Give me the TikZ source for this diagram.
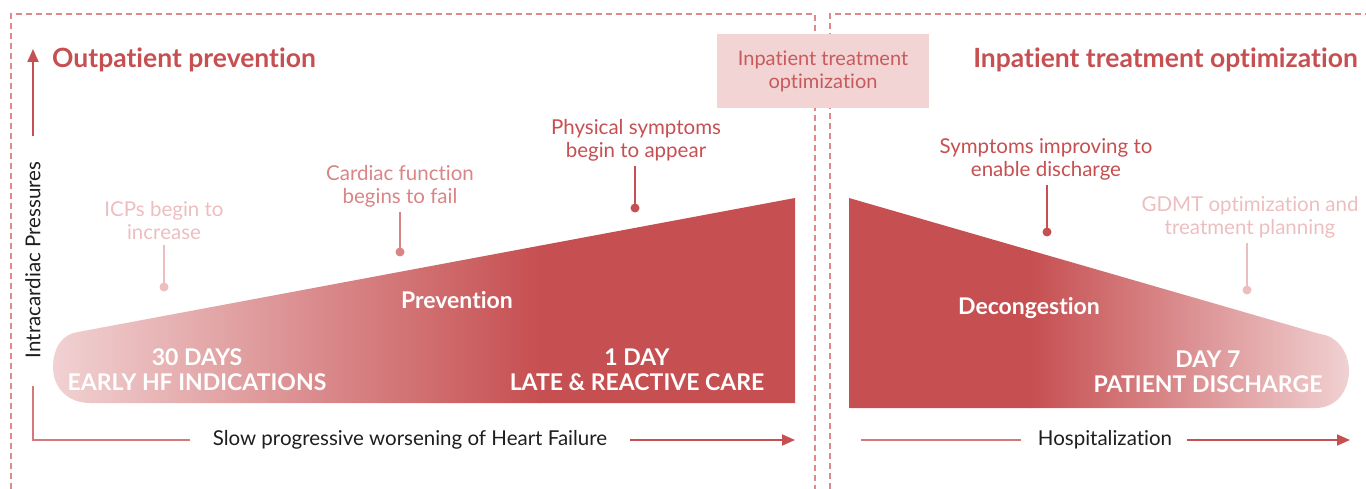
\documentclass[tikz,border=0pt]{standalone}
\usepackage{fontspec}
\setmainfont{Lato}[Ligatures={NoCommon}]
\usetikzlibrary{arrows.meta}
\definecolor{hfred}{HTML}{C64F51}
\definecolor{hflight}{HTML}{F1D2D3}
\definecolor{hfmid}{HTML}{D98486}
\definecolor{hfpale}{HTML}{EDBEBF}
\definecolor{hfdash}{HTML}{DC8A8C}
\definecolor{hfaxis}{HTML}{D4787A}
\definecolor{hfbox}{HTML}{F2D4D5}
\definecolor{hfboxtext}{HTML}{C85A5C}
\definecolor{hfink}{HTML}{1E1E1E}
\begin{document}
\begin{tikzpicture}[x=1pt,y=-1pt,
  frame/.style={draw=hfdash,line width=1.2pt,dash pattern=on 6pt off 4pt},
  heading/.style={font=\fontsize{26.5}{30}\selectfont\bfseries,text=hfred,inner sep=0pt},
  note/.style={font=\fontsize{20.5}{23}\selectfont,align=center,inner sep=0pt},
  band/.style={font=\fontsize{23}{25}\selectfont\bfseries,text=white,align=center,inner sep=0pt},
  axislabel/.style={font=\fontsize{20.5}{24}\selectfont,text=hfink,inner sep=0pt},
  pin/.style={line width=2pt,shorten <=5pt},
  dot/.style={circle,inner sep=0pt,minimum size=9pt},
  axisline/.style={draw=hfaxis,line width=1.8pt},
  tip/.style={-{Triangle[length=13pt,width=11pt]}}
]
\useasboundingbox (0,0) rectangle (1366,489);

% dashed section frames
\draw[frame] (11,489) -- (11,14) -- (815,14) -- (815,489);
\draw[frame] (830,489) -- (830,14) -- (1366,14);

% headings
\node[heading,anchor=west] (outhead) at (52,60) {Outpatient prevention};
\node[heading,anchor=east] (inhead) at (1358,60) {Inpatient treatment optimization};
\node[fill=hfbox,text=hfboxtext,minimum width=212pt,minimum height=74pt,
      font=\fontsize{20}{23}\selectfont,align=center] (inbox) at (823,71)
      {Inpatient treatment\\optimization};

% outpatient band: light on the left, full red towards the right
\begin{scope}
  \clip (795,198) -- (795,403) -- (90,403)
        .. controls (68,403) and (53,388) .. (53,367)
        .. controls (53,347) and (63,334) .. (78,332) -- cycle;
  \shade[left color=hflight,right color=hfred] (50,190) rectangle (540,410);
  \fill[hfred] (539,190) rectangle (800,410);
\end{scope}

% inpatient band: full red on the left, fading towards discharge
\begin{scope}
  \clip (849,198) -- (1320,334)
        .. controls (1337,336) and (1349,352) .. (1349,371)
        .. controls (1349,392) and (1335,408) .. (1316,408)
        -- (849,408) -- cycle;
  \fill[hfred] (845,190) rectangle (1031,412);
  \shade[left color=hfred,right color=hflight] (1030,190) rectangle (1352,412);
\end{scope}

% band labels
\node[band] (prev) at (457,300) {Prevention};
\node[band] (early) at (197,370) {30 DAYS\\EARLY HF INDICATIONS};
\node[band] (late) at (637,370) {1 DAY\\LATE \& REACTIVE CARE};
\node[band] (decong) at (1029,308) {Decongestion};
\node[band] (disch) at (1208,372) {DAY 7\\PATIENT DISCHARGE};

% milestone annotations
\node[note,text=hfpale] (icp) at (164,221) {ICPs begin to\\increase};
\node[dot,fill=hfpale] (icpdot) at (164,287) {};
\draw[pin,hfpale] (icp.south) -- (icpdot.center);

\node[note,text=hfmid] (card) at (400,186) {Cardiac function\\begins to fail};
\node[dot,fill=hfmid] (carddot) at (400,252) {};
\draw[pin,hfmid] (card.south) -- (carddot.center);

\node[note,text=hfred] (phys) at (636,140) {Physical symptoms\\begin to appear};
\node[dot,fill=hfred] (physdot) at (635,208) {};
\draw[pin,hfred] (phys.south) ++(-1,0) -- (physdot.center);

\node[note,text=hfred] (impr) at (1046,159) {Symptoms improving to\\enable discharge};
\node[dot,fill=hfred] (imprdot) at (1047,232) {};
\draw[pin,hfred] (impr.south) ++(1,0) -- (imprdot.center);

\node[note,text=hfpale] (gdmt) at (1250,217) {GDMT optimization and\\treatment planning};
\node[dot,fill=hfpale] (gdmtdot) at (1247,290) {};
\draw[pin,hfpale] (gdmt.south) ++(-3,0) -- (gdmtdot.center);

% pressure axis
\coordinate (ybot) at (33,136);
\coordinate (ytop) at (33,49);
\draw[axisline,draw=hfred,tip] (ybot) -- (ytop);
\node[axislabel,rotate=90] (ylab) at (33,260) {Intracardiac Pressures};
\coordinate (corner) at (33,440);
\coordinate (ystart) at (33,386);
\coordinate (xend) at (190,440);
\draw[axisline] (ystart) -- (corner) -- (xend);

% time axes
\node[axislabel] (slow) at (410,440) {Slow progressive worsening of Heart Failure};
\coordinate (slowa) at (630,440);
\coordinate (slowb) at (795,440);
\draw[axisline,draw=hfred,tip] (slowa) -- (slowb);

\node[axislabel] (hosp) at (1105,440) {Hospitalization};
\coordinate (hospa) at (861,440);
\coordinate (hospb) at (1021,440);
\coordinate (hospc) at (1187,440);
\coordinate (hospd) at (1350,440);
\draw[axisline] (hospa) -- (hospb);
\draw[axisline,draw=hfred,tip] (hospc) -- (hospd);
\end{tikzpicture}
\end{document}
